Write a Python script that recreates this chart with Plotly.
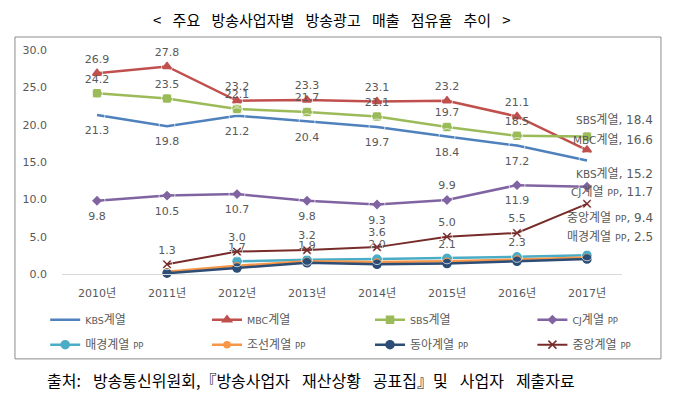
import plotly.graph_objects as go

years = ["2010년", "2011년", "2012년", "2013년", "2014년", "2015년", "2016년", "2017년"]
kbs = [21.3, 19.8, 21.2, 20.4, 19.7, 18.4, 17.2, 15.2]
mbc = [26.9, 27.8, 23.2, 23.3, 23.1, 23.2, 21.1, 16.6]
sbs = [24.2, 23.5, 22.1, 21.7, 21.1, 19.7, 18.5, 18.4]
cj = [9.8, 10.5, 10.7, 9.8, 9.3, 9.9, 11.9, 11.7]
maekyung = [None, None, 1.7, 1.9, 2.0, 2.1, 2.3, 2.5]
chosun = [None, 0.3, 1.1, 1.7, 1.6, 1.7, 2.0, 2.2]
donga = [None, 0.1, 0.8, 1.5, 1.3, 1.4, 1.7, 2.0]
joongang = [None, 1.3, 3.0, 3.2, 3.6, 5.0, 5.5, 9.4]

FONT = "DejaVu Sans, Noto Sans CJK KR"
GRAY = "#595959"
SP = "\u2002\u2005"  # wide gap between words, like the original


def small(s, size):
    return f"<span style='font-size:{size}px'>{s}</span>"


def labels(vals):
    # value labels for every point except the last one (that one gets a named label)
    return ["" if v is None or i == len(vals) - 1 else f"{v:.1f}" for i, v in enumerate(vals)]


B, T = "bottom center", "top center"
series = [
    # latin part, hangul part, values, color, symbol, marker size, legend, label position
    ("KBS", "계열", kbs, "#4F81BD", "circle", 0, "legend", B),
    ("MBC", "계열", mbc, "#C0504D", "triangle-up", 8, "legend2", T),
    ("SBS", "계열", sbs, "#9BBB59", "square", 7, "legend3", T),
    ("CJ", "계열 PP", cj, "#8064A2", "diamond", 6, "legend4", [B, B, B, B, B, T, B, B]),
    ("", "매경계열 PP", maekyung, "#4BACC6", "circle", 8, "legend", T),
    ("", "조선계열 PP", chosun, "#F79646", "circle", 6, "legend2", None),
    ("", "동아계열 PP", donga, "#2C4D75", "circle", 8, "legend3", None),
    ("", "중앙계열 PP", joongang, "#772C2A", "x-thin", 8, "legend4", T),
]


def display_name(latin, hangul, lsize):
    name = small(latin, lsize) if latin else ""
    if hangul.endswith(" PP"):
        return name + hangul[:-3] + " " + small("PP", lsize - 1)
    return name + hangul


fig = go.Figure()
for latin, hangul, vals, color, symbol, msize, leg, pos in series:
    fig.add_trace(go.Scatter(
        x=years, y=vals, name=display_name(latin, hangul, 9.5), legend=leg, legendgroup=hangul + latin,
        mode="lines+markers" if msize else "lines",
        line=dict(color=color, width=2.5 if symbol != "x-thin" else 2),
        marker=dict(symbol=symbol, size=msize, color=color, line=dict(color=color, width=1.5)),
        cliponaxis=False,
    ))

# value labels (invisible markers only set the distance of the text from the point)
for latin, hangul, vals, color, symbol, msize, leg, pos in series:
    if pos is None:
        continue
    positions = pos if isinstance(pos, list) else [pos] * len(vals)
    fig.add_trace(go.Scatter(
        x=years, y=vals, mode="markers+text", showlegend=False, hoverinfo="skip",
        marker=dict(size=[16 if p == B else 11 for p in positions], color="rgba(0,0,0,0)"),
        text=labels(vals), textposition=positions,
        textfont=dict(family=FONT, size=11, color=GRAY),
        cliponaxis=False,
    ))

# named labels at the last point
end_labels = [
    ("SBS", "계열", sbs[-1], 17),
    ("MBC", "계열", mbc[-1], 10),
    ("KBS", "계열", kbs[-1], -13),
    ("CJ", "계열 PP", cj[-1], -5),
    ("", "중앙계열 PP", joongang[-1], -14),
    ("", "매경계열 PP", maekyung[-1], 18),
]
for latin, hangul, v, ys in end_labels:
    fig.add_annotation(x=years[-1], y=v, text=display_name(latin, hangul, 10.5) + f", {v:.1f}",
                       showarrow=False, xanchor="right", yanchor="middle",
                       xshift=68, yshift=ys, font=dict(family=FONT, size=12, color=GRAY))

fig.add_annotation(xref="paper", yref="paper", x=0.482, y=1.138, xanchor="center", yanchor="middle",
                   text=SP.join(["<", "주요", "방송사업자별", "방송광고", "매출", "점유율", "추이", ">"]),
                   showarrow=False, font=dict(family="Noto Sans CJK KR", size=15, color="#000000"))
fig.add_annotation(xref="paper", yref="paper", x=-0.03, y=-0.473, xanchor="left", yanchor="middle",
                   text=SP.join(["출처:", "방송통신위원회,『방송사업자", "재산상황", "공표집』및", "사업자", "제출자료"]),
                   showarrow=False, font=dict(family="Noto Sans CJK KR", size=16, color="#000000"))

# outer frame
fig.add_shape(type="rect", xref="paper", yref="paper", x0=-0.084, x1=1.0696, y0=-0.379, y1=1.058,
              line=dict(color="#8C8C8C", width=1))

legend_style = dict(orientation="v", y=-0.139, yanchor="top", xanchor="left", tracegroupgap=6,
                    bgcolor="rgba(0,0,0,0)", font=dict(family=FONT, size=12, color=GRAY))
fig.update_layout(
    width=680, height=406,
    margin=dict(l=54, r=66, t=42, b=140),
    plot_bgcolor="white", paper_bgcolor="white",
    font=dict(family=FONT, size=11, color=GRAY),
    showlegend=True,
    legend=dict(x=-0.03, **legend_style),
    legend2=dict(x=0.259, **legend_style),
    legend3=dict(x=0.55, **legend_style),
    legend4=dict(x=0.84, **legend_style),
)
fig.update_xaxes(range=[-0.5, 7.5], showgrid=False, showline=True, linecolor="#D9D9D9", linewidth=1,
                 ticks="", tickfont=dict(family=FONT, size=11, color=GRAY), ticklabelstandoff=9)
fig.update_yaxes(range=[0, 30], dtick=5, tickformat=".1f", showgrid=False, zeroline=False,
                 showline=False, ticks="", tickfont=dict(family=FONT, size=11, color=GRAY),
                 ticklabelstandoff=14)

fig.write_html("out.html")
